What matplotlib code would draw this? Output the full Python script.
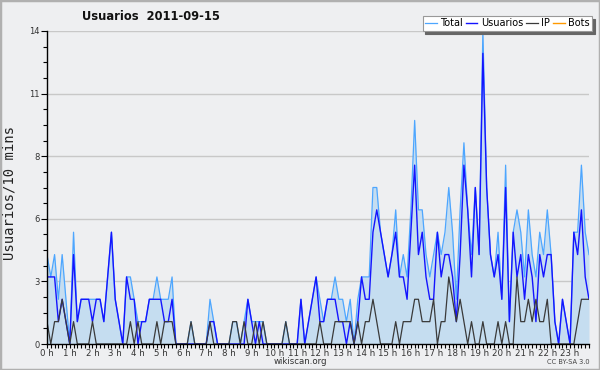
import matplotlib
matplotlib.use('Agg')
import matplotlib.pyplot as plt
from matplotlib.patches import Rectangle
import numpy as np

hour_labels = [f"{h} h" for h in range(24)]
y_tick_values = [0, 2.8, 5.6, 8.4, 11.2, 14]
y_tick_labels = ['0', '3', '6', '8', '11', '14']

total = [4, 3, 4, 2, 4, 2,   0, 5, 1, 2, 2, 2,   2, 2, 2, 1, 3, 5,
         2, 1, 0, 3, 3, 2,   1, 1, 1, 2, 2, 3,   2, 2, 2, 3, 0, 0,
         0, 0, 1, 0, 0, 0,   0, 2, 1, 0, 0, 0,   0, 1, 1, 0, 1, 2,
         1, 1, 1, 1, 0, 0,   0, 0, 0, 1, 0, 0,   0, 2, 0, 1, 2, 3,
         2, 1, 2, 2, 3, 2,   2, 1, 2, 0, 2, 3,   3, 3, 7, 7, 5, 4,
         3, 4, 6, 3, 4, 3,   6, 10, 6, 6, 4, 3,  4, 5, 4, 5, 7, 5,
         2, 6, 9, 6, 4, 7,   4, 14, 7, 4, 3, 5,  2, 8, 1, 5, 6, 5,
         3, 6, 4, 3, 5, 4,   6, 4, 1, 0, 2, 1,   0, 5, 5, 8, 5, 4]

usuarios = [3, 3, 3, 1, 2, 1,   0, 4, 1, 2, 2, 2,   1, 2, 2, 1, 3, 5,
            2, 1, 0, 3, 2, 2,   0, 1, 1, 2, 2, 2,   2, 1, 1, 2, 0, 0,
            0, 0, 0, 0, 0, 0,   0, 1, 1, 0, 0, 0,   0, 0, 0, 0, 0, 2,
            1, 0, 1, 0, 0, 0,   0, 0, 0, 0, 0, 0,   0, 2, 0, 1, 2, 3,
            1, 1, 2, 2, 2, 1,   1, 0, 1, 0, 1, 3,   2, 2, 5, 6, 5, 4,
            3, 4, 5, 3, 3, 2,   5, 8, 4, 5, 3, 2,   2, 5, 3, 4, 4, 3,
            1, 4, 8, 6, 3, 7,   4, 13, 7, 4, 3, 4,  2, 7, 1, 5, 3, 4,
            2, 4, 3, 1, 4, 3,   4, 4, 1, 0, 2, 1,   0, 5, 4, 6, 3, 2]

ip = [1, 0, 1, 1, 2, 1,   0, 1, 0, 0, 0, 0,   1, 0, 0, 0, 0, 0,
      0, 0, 0, 0, 1, 0,   1, 0, 0, 0, 0, 1,   0, 1, 1, 1, 0, 0,
      0, 0, 1, 0, 0, 0,   0, 1, 0, 0, 0, 0,   0, 1, 1, 0, 1, 0,
      0, 1, 0, 1, 0, 0,   0, 0, 0, 1, 0, 0,   0, 0, 0, 0, 0, 0,
      1, 0, 0, 0, 1, 1,   1, 1, 1, 0, 1, 0,   1, 1, 2, 1, 0, 0,
      0, 0, 1, 0, 1, 1,   1, 2, 2, 1, 1, 1,   2, 0, 1, 1, 3, 2,
      1, 2, 1, 0, 1, 0,   0, 1, 0, 0, 0, 1,   0, 1, 0, 0, 3, 1,
      1, 2, 1, 2, 1, 1,   2, 0, 0, 0, 0, 0,   0, 0, 1, 2, 2, 2]

bots = [0] * 144

BG = '#EEEFF1'
fig = plt.figure(figsize=(6, 3.7), dpi=100, facecolor=BG)
ax = fig.add_axes([47/600, 1-344/370, 542/600, 313/370])
ax.set_facecolor(BG)

x = np.arange(len(total))
ax.fill_between(x, total, color='#C5DDF0', lw=0, zorder=1)
l_bots, = ax.plot(x, bots, color='#FF9900', lw=1.0, label='Bots', zorder=0.5)
l_tot, = ax.plot(x, total, color='#4DA6FF', lw=0.9, label='Total', zorder=3)
l_usr, = ax.plot(x, usuarios, color='#1414FF', lw=1.0, label='Usuarios', zorder=4)
l_ip, = ax.plot(x, ip, color='#3A3A3A', lw=0.9, label='IP', zorder=5)

ax.set_xlim(0, 143)
ax.set_ylim(0, 14)
for s in ['top', 'right']:
    ax.spines[s].set_visible(False)
for s in ['left', 'bottom']:
    ax.spines[s].set_color('black')
    ax.spines[s].set_linewidth(1.0)
    ax.spines[s].set_zorder(6)

ax.set_yticks(y_tick_values, y_tick_labels)
ax.set_yticks(np.arange(0, 14.01, 0.7), minor=True)
ax.set_xticks(np.arange(0, 144, 6), hour_labels)
ax.set_xticks(np.arange(0, 144, 1), minor=True)
ax.tick_params(axis='y', which='major', length=4, width=0.8, labelsize=6, pad=1, colors='black', labelcolor='#333333')
ax.tick_params(axis='y', which='minor', length=3, width=0.8)
ax.tick_params(axis='x', which='major', length=3, width=0.8, labelsize=6.2, pad=0.3, labelcolor='#333333')
ax.tick_params(axis='x', which='minor', length=3, width=0.8)
ax.grid(axis='y', which='major', color='#C8C8C8', lw=1.0, zorder=0)
ax.set_axisbelow(True)

fig.text(151/600, 1-17/370, 'Usuarios  2011-09-15', ha='center', va='center',
         fontsize=8.3, fontweight='bold', color='#111111')
fig.text(10/600, 1-193/370, 'Usuarios/10 mins', rotation=90, ha='center', va='center',
         family='DejaVu Sans Mono', fontsize=10, color='#222222')
fig.text(300/600, 1-362/370, 'wikiscan.org', ha='center', va='center', fontsize=6.2, color='#333333')
fig.text(590/600, 1-362/370, 'CC BY-SA 3.0', ha='right', va='center', fontsize=4.8, color='#444444')

leg = fig.legend(handles=[l_tot, l_usr, l_ip, l_bots], labels=['Total', 'Usuarios', 'IP', 'Bots'],
                 loc='upper right', bbox_to_anchor=(592/600, 1-16/370), ncol=4, fontsize=7,
                 frameon=True, fancybox=False, framealpha=1, edgecolor='#999999',
                 handlelength=1.2, handletextpad=0.35, columnspacing=0.3, borderpad=0.25,
                 borderaxespad=0, shadow={'color': '#666666', 'alpha': 1})
leg.get_frame().set_linewidth(0.8)

fig.patches.append(Rectangle((0, 0), 1, 1, transform=fig.transFigure, fill=False,
                             edgecolor='#B0B0B0', lw=2.5))

fig.savefig('out.png', dpi=100, facecolor=BG)
